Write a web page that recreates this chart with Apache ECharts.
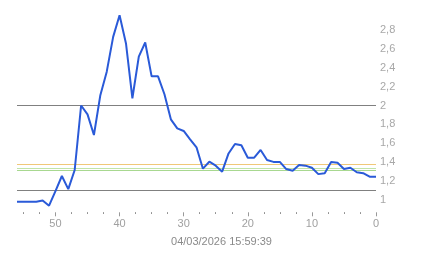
<!DOCTYPE html>
<html>
<head>
<meta charset="utf-8">
<script src="https://cdn.jsdelivr.net/npm/echarts@6/dist/echarts.min.js"></script>
<style>html,body{margin:0;padding:0;background:#fff}#c{width:443px;height:258px}</style>
</head>
<body>
<div id="c"></div>
<script>
// minutes ago (x) and measured values
const minutesAgo = [56,55,54,53,52,51,50,49,48,47,46,45,44,43,42,41,40,39,38,37,36,35,34,33,32,31,30,29,28,27,26,25,24,23,22,21,20,19,18,17,16,15,14,13,12,11,10,9,8,7,6,5,4,3,2,1,0];
const values = [0.977,0.977,0.977,0.977,0.99,0.934,1.09,1.25,1.11,1.314,2.0,1.906,1.686,2.11,2.36,2.73,2.96,2.66,2.077,2.52,2.67,2.31,2.31,2.12,1.853,1.757,1.729,1.64,1.555,1.328,1.402,1.36,1.296,1.49,1.59,1.577,1.445,1.445,1.527,1.42,1.40,1.40,1.324,1.306,1.367,1.36,1.338,1.27,1.28,1.40,1.39,1.324,1.338,1.29,1.28,1.243,1.243];
const thresholds = [2.0, 1.1, 1.37, 1.335, 1.31];
const thresholdColors = ['#808080','#808080','#f0c878','#c0e4a8','#a8d890'];
const xMajorTicks = [0,10,20,30,40,50];
const xMinorTicks = [2.5,5,7.5,12.5,15,17.5,22.5,25,27.5,32.5,35,37.5,42.5,45,47.5,52.5,55];
const yTickLabels = [1,1.2,1.4,1.6,1.8,2,2.2,2.4,2.6,2.8];
const title = '04/03/2026 15:59:39';

const chart = echarts.init(document.getElementById('c'), null, {renderer:'canvas'});
const font = "'Liberation Sans', Arial, sans-serif";
chart.setOption({
  animation: false,
  backgroundColor: '#fff',
  title: {
    text: title, left: 'center', top: 231,
    textStyle: {fontFamily: font, fontSize: 11, fontWeight: 'normal', color: '#8a8a8a'}
  },
  grid: {left: 17, right: 67, top: 11.5, bottom: 39.7},
  xAxis: [{
    type: 'value', inverse: true, min: 0, max: 56, offset: -6,
    axisLine: {show: false},
    splitLine: {show: false},
    axisTick: {show: true, customValues: xMajorTicks, length: 4, lineStyle: {color: '#999'}},
    axisLabel: {customValues: xMajorTicks, margin: 6, color: '#a0a0a0', fontFamily: font, fontSize: 11}
  }, {
    type: 'value', inverse: true, min: 0, max: 56, offset: -6, position: 'bottom',
    axisLine: {show: false},
    splitLine: {show: false},
    axisTick: {show: true, customValues: xMinorTicks, length: 1.5, lineStyle: {color: '#777'}},
    axisLabel: {show: false}
  }],
  yAxis: {
    type: 'value', position: 'right', min: 0.8, max: 3.0, interval: 0.2,
    axisLine: {show: false}, axisTick: {show: false}, splitLine: {show: false},
    axisLabel: {
      customValues: yTickLabels,
      margin: 4, align: 'left', padding: [0,0,12,0],
      color: '#a8a8a8', fontFamily: font, fontSize: 11,
      formatter: v => String(Math.round(v*10)/10).replace('.', ',')
    }
  },
  series: [{
    type: 'line',
    xAxisIndex: 0,
    data: minutesAgo.map((m, i) => [m, values[i]]),
    symbol: 'none',
    lineStyle: {color: '#2a5ad8', width: 2},
    z: 5,
    markLine: {
      silent: true, symbol: 'none', label: {show: false},
      data: thresholds.map((t, i) => ({yAxis: t, lineStyle: {color: thresholdColors[i], width: 1, type: 'solid'}}))
    }
  }]
});
</script>
</body>
</html>
